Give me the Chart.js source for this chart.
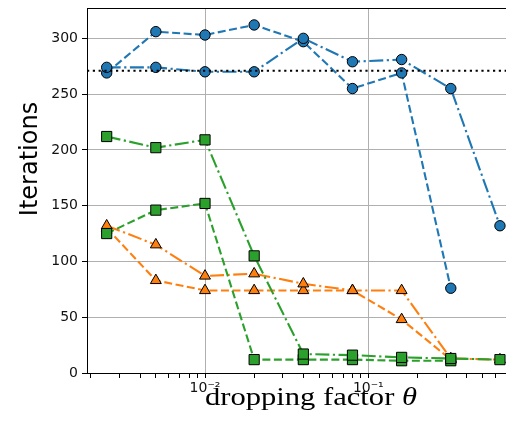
<!DOCTYPE html>
<html>
<head>
<meta charset="utf-8">
<script src="https://cdn.jsdelivr.net/npm/chart.js@4.4.1/dist/chart.umd.min.js"></script>
<style>
  html, body { margin: 0; padding: 0; background: #fff; overflow: hidden; }
  canvas { display: block; }
</style>
</head>
<body>
<canvas id="c" width="506" height="424"></canvas>
<script>
// ---- data ----
const thetas = [0.0025, 0.005, 0.01, 0.02, 0.04, 0.08, 0.16, 0.32, 0.64];

const blueDashed    = [269, 306, 303, 312, 297, 255, 269, 76, null];
const blueDashDot   = [274, 274, 270, 270, 300, 279, 281, 255, 132];
const orangeDashed  = [130, 83, 74, 74, 74, 74, 48, 12, null];
const orangeDashDot = [132, 115, 87, 89, 80, 74, 74, 13, 12];
const greenDashed   = [125, 146, 152, 12, 12, 12, 11, 11, null];
const greenDashDot  = [212, 202, 209, 105, 17, 16, 14, 13, 12];

const referenceIterations = 271;

const xLimits = [0.001894, 0.697];
const yLimits = [0, 327.2];
const yTickValues = [0, 50, 100, 150, 200, 250, 300];
const xMajorTicks = [0.01, 0.1];
const xMajorLabels = ['10\u207B\u00B2', '10\u207B\u00B9'];
const xMinorTicks = [0.002, 0.003, 0.004, 0.005, 0.006, 0.007, 0.008, 0.009,
                     0.02, 0.03, 0.04, 0.05, 0.06, 0.07, 0.08, 0.09,
                     0.2, 0.3, 0.4, 0.5, 0.6];

const xTitle = 'dropping factor ';
const xTitleSymbol = '\u03B8';
const yTitle = 'Iterations';

// ---- styling ----
const C_BLUE = '#1f77b4', C_ORANGE = '#ff7f0e', C_GREEN = '#2ca02c';
const DASHED = [8, 3.5];
const DASHDOT = [14, 3.5, 2.2, 3.5];
const DOTTED = [2.2, 3.6];

function pts(vals) {
  return thetas.map((t, i) => ({ x: t, y: vals[i] }));
}

function series(vals, color, dash, style, radius, order) {
  return {
    data: pts(vals),
    borderColor: color,
    backgroundColor: color,
    borderWidth: 2.1,
    borderDash: dash,
    pointStyle: style,
    pointRadius: radius,
    pointHoverRadius: radius,
    pointBackgroundColor: color,
    pointBorderColor: '#000',
    pointBorderWidth: 1,
    tension: 0,
    spanGaps: false,
    order: order
  };
}

const datasets = [
  {
    data: xLimits.map(x => ({ x: x, y: referenceIterations })),
    borderColor: '#000',
    borderWidth: 2.1,
    borderDash: DOTTED,
    pointRadius: 0,
    tension: 0,
    order: 0
  },
  series(greenDashDot,  C_GREEN,  DASHDOT, 'rect',     7.2, 1),
  series(greenDashed,   C_GREEN,  DASHED,  'rect',     7.2, 2),
  series(orangeDashDot, C_ORANGE, DASHDOT, 'triangle', 6.3, 3),
  series(orangeDashed,  C_ORANGE, DASHED,  'triangle', 6.3, 4),
  series(blueDashDot,   C_BLUE,   DASHDOT, 'circle',   5.2, 5),
  series(blueDashed,    C_BLUE,   DASHED,  'circle',   5.2, 6)
];

const framePlugin = {
  id: 'frameAndTitles',
  afterDraw(chart) {
    const ctx = chart.ctx;
    const a = chart.chartArea;
    ctx.save();
    // top spine
    ctx.strokeStyle = '#000';
    ctx.lineWidth = 1;
    ctx.beginPath();
    ctx.moveTo(a.left, a.top + 0.5);
    ctx.lineTo(a.right, a.top + 0.5);
    ctx.stroke();

    // y title
    ctx.fillStyle = '#000';
    ctx.font = '24px "DejaVu Sans"';
    ctx.textAlign = 'center';
    ctx.textBaseline = 'alphabetic';
    ctx.translate(37, 159);
    ctx.rotate(-Math.PI / 2);
    ctx.fillText(yTitle, 0, 0);
    ctx.restore();

    // x title (serif, math-like theta)
    ctx.save();
    ctx.fillStyle = '#000';
    ctx.textBaseline = 'alphabetic';
    ctx.textAlign = 'left';
    const fontMain = '26px "Liberation Serif"';
    const fontSym = 'italic 26px "Liberation Serif"';
    ctx.font = fontMain;
    const w1 = ctx.measureText(xTitle).width;
    ctx.font = fontSym;
    const w2 = ctx.measureText(xTitleSymbol).width;
    const targetW = 212;
    const sx = targetW / (w1 + w2);
    ctx.translate(205, 405);
    ctx.scale(sx, 1);
    ctx.font = fontMain;
    ctx.fillText(xTitle, 0, 0);
    ctx.font = fontSym;
    ctx.fillText(xTitleSymbol, w1, 0);
    ctx.restore();
  }
};

new Chart(document.getElementById('c'), {
  type: 'line',
  data: { datasets: datasets },
  plugins: [framePlugin],
  options: {
    responsive: false,
    devicePixelRatio: 1,
    animation: false,
    events: [],
    layout: { autoPadding: false, padding: { top: 8, left: 0, right: 0, bottom: 0 } },
    plugins: {
      legend: { display: false },
      tooltip: { enabled: false },
      title: { display: false }
    },
    scales: {
      x: {
        type: 'logarithmic',
        min: xLimits[0],
        max: xLimits[1],
        afterBuildTicks(scale) {
          const all = xMinorTicks.concat(xMajorTicks).sort((p, q) => p - q);
          scale.ticks = all.map(v => ({ value: v, major: xMajorTicks.includes(v) }));
        },
        afterFit(scale) {
          scale.height = 51;
          scale.paddingLeft = 0;
          scale.paddingRight = 0;
        },
        grid: {
          color: (c) => (c.tick && xMajorTicks.includes(c.tick.value)) ? '#b0b0b0' : 'rgba(0,0,0,0)',
          tickColor: '#000',
          lineWidth: 1,
          tickLength: 5,
          drawOnChartArea: true
        },
        border: { color: '#000', width: 1 },
        ticks: {
          autoSkip: false,
          maxRotation: 0,
          minRotation: 0,
          padding: 2,
          color: '#111',
          font: { family: 'DejaVu Sans', size: 14 },
          callback: function (value) {
            const k = xMajorTicks.indexOf(value);
            return k >= 0 ? xMajorLabels[k] : '';
          }
        }
      },
      y: {
        type: 'linear',
        min: yLimits[0],
        max: yLimits[1],
        afterBuildTicks(scale) {
          scale.ticks = yTickValues.map(v => ({ value: v }));
        },
        afterFit(scale) {
          scale.width = 87;
          scale.paddingTop = 0;
          scale.paddingBottom = 0;
        },
        grid: {
          color: '#b0b0b0',
          tickColor: '#000',
          lineWidth: 1,
          tickLength: 5
        },
        border: { color: '#000', width: 1 },
        ticks: {
          padding: 4,
          color: '#111',
          font: { family: 'DejaVu Sans', size: 14 }
        }
      }
    }
  }
});
</script>
</body>
</html>
